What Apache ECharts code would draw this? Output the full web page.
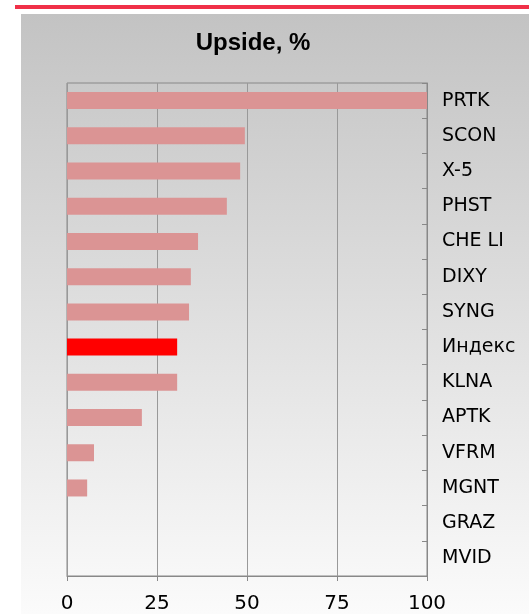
<!DOCTYPE html>
<html>
<head>
<meta charset="utf-8">
<script src="https://cdn.jsdelivr.net/npm/echarts@6/dist/echarts.min.js"></script>
<style>
  html,body{margin:0;padding:0;background:#fff;}
  #chart{width:529px;height:614px;}
</style>
</head>
<body>
<div id="chart"></div>
<script>
var categories = ['PRTK','SCON','X-5','PHST','CHE LI','DIXY','SYNG','Индекс','KLNA','APTK','VFRM','MGNT','GRAZ','MVID'];
var upside = [100, 49.4, 48.1, 44.4, 36.4, 34.4, 33.9, 30.6, 30.6, 20.8, 7.5, 5.6, 0, 0];
var highlightName = 'Индекс';
var xTicks = [0, 25, 50, 75, 100];

var barData = [];
for (var i = 0; i < categories.length; i++) {
    if (categories[i] == highlightName) {
        barData.push({value: upside[i], itemStyle: {color: '#ff0000'}});
    } else {
        barData.push(upside[i]);
    }
}

var myChart = echarts.init(document.getElementById('chart'));
myChart.setOption({
    animation: false,
    backgroundColor: '#ffffff',
    graphic: [
        {type: 'rect', left: 15, top: 5, shape: {width: 514, height: 4}, style: {fill: '#f03048'}, z: -10},
        {type: 'rect', left: 21, top: 14, shape: {width: 508, height: 600},
            style: {fill: new echarts.graphic.LinearGradient(0, 0, 0, 1, [
                {offset: 0, color: '#c3c3c3'},
                {offset: 1, color: '#fbfbfb'}
            ])}, z: -10}
    ],
    title: {
        text: 'Upside, %',
        left: 248,
        textAlign: 'center',
        top: 26,
        textStyle: {fontFamily: 'Liberation Sans', fontSize: 24, fontWeight: 'bold', color: '#000'}
    },
    grid: {left: 67, right: 102, top: 83, bottom: 38, show: true, borderColor: '#888', borderWidth: 1},
    xAxis: {
        type: 'value',
        min: xTicks[0],
        max: xTicks[xTicks.length - 1],
        interval: 25,
        axisLine: {show: true, lineStyle: {color: '#888', width: 1}},
        axisTick: {show: true, length: 5, lineStyle: {color: '#888'}},
        axisLabel: {fontFamily: 'DejaVu Sans', fontSize: 20, color: '#000', margin: 18},
        splitLine: {show: true, lineStyle: {color: '#999', width: 1}}
    },
    yAxis: {
        type: 'category',
        data: categories,
        inverse: true,
        position: 'right',
        axisLine: {show: true, onZero: false, lineStyle: {color: '#888', width: 1}},
        axisTick: {show: true, inside: true, length: 5, lineStyle: {color: '#888'}},
        axisLabel: {fontFamily: 'DejaVu Sans', fontSize: 19, color: '#000', margin: 15},
        splitLine: {show: false}
    },
    series: [{
        type: 'bar',
        data: barData,
        barWidth: 17,
        itemStyle: {color: '#db9494'}
    }]
});
</script>
</body>
</html>
